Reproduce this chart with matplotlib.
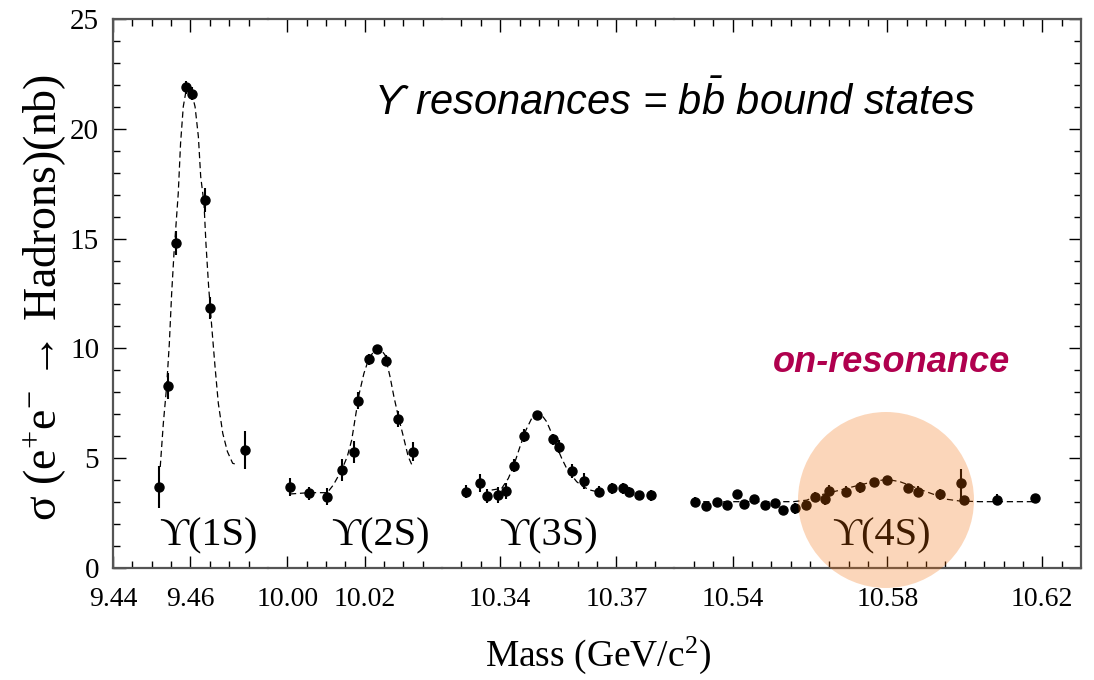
import numpy as np
import matplotlib
matplotlib.use("Agg")
import matplotlib.pyplot as plt
from matplotlib.patches import Ellipse
from matplotlib.ticker import FixedLocator, FormatStrFormatter

plt.rcParams['mathtext.fontset'] = 'custom'
plt.rcParams['mathtext.rm'] = 'Liberation Serif'
plt.rcParams['mathtext.it'] = 'Liberation Serif:italic'
plt.rcParams['mathtext.sf'] = 'Liberation Sans:italic'

# ---- measured cross sections (mass in GeV, sigma in nb, error in nb) ----
m_1s = [9.4520, 9.4541, 9.4563, 9.4589, 9.4604, 9.4637, 9.4651, 9.4741]
s_1s = [3.70, 8.29, 14.79, 21.89, 21.60, 16.76, 11.83, 5.37]
e_1s = [0.95, 0.60, 0.55, 0.30, 0.30, 0.55, 0.50, 0.85]

m_2s = [10.0007, 10.0056, 10.01035, 10.01405, 10.01735, 10.01835, 10.0211,
        10.02325, 10.0255, 10.0285, 10.0324]
s_2s = [3.70, 3.40, 3.25, 4.46, 5.30, 7.62, 9.50, 9.96, 9.44, 6.78, 5.30]
e_2s = [0.40, 0.30, 0.40, 0.50, 0.50, 0.40, 0.25, 0.20, 0.25, 0.35, 0.45]

m_3s = [10.33115, 10.3348, 10.3365, 10.3395, 10.3414, 10.34355, 10.34615,
        10.34945, 10.3537, 10.35525, 10.35865, 10.36175, 10.3656, 10.3688,
        10.37165, 10.37335, 10.37585, 10.37885]
s_3s = [3.48, 3.86, 3.28, 3.32, 3.51, 4.66, 6.03, 6.97, 5.87, 5.52, 4.42,
        3.96, 3.48, 3.63, 3.63, 3.48, 3.32, 3.32]
e_3s = [0.30, 0.40, 0.30, 0.35, 0.35, 0.30, 0.30, 0.20, 0.25, 0.30, 0.30,
        0.35, 0.25, 0.25, 0.25, 0.20, 0.15, 0.25]

m_4s = [10.5303, 10.53315, 10.5359, 10.53865, 10.54125, 10.54295, 10.54555,
        10.5484, 10.55095, 10.5531, 10.55615, 10.559, 10.5613, 10.5639,
        10.5649, 10.5693, 10.5729, 10.5766, 10.5800, 10.5854, 10.5880,
        10.5936, 10.5990, 10.5998, 10.6084, 10.6181]
s_4s = [3.02, 2.82, 3.02, 2.87, 3.36, 2.91, 3.13, 2.87, 2.97, 2.64, 2.72,
        2.87, 3.25, 3.14, 3.52, 3.47, 3.67, 3.93, 4.01, 3.66, 3.47, 3.36,
        3.86, 3.10, 3.10, 3.17]
e_4s = [0.20, 0.15, 0.15, 0.15, 0.20, 0.15, 0.15, 0.15, 0.15, 0.15, 0.25,
        0.15, 0.20, 0.25, 0.25, 0.25, 0.25, 0.15, 0.15, 0.15, 0.25, 0.25,
        0.65, 0.20, 0.25, 0.15]

# ---- fitted line shapes ----
fm_1s = [9.4522, 9.4530, 9.45385, 9.45455, 9.45515, 9.45575, 9.45685, 9.45745,
         9.45815, 9.45905, 9.46005, 9.4612, 9.46205, 9.46265, 9.4635, 9.4640,
         9.4647, 9.4655, 9.46635, 9.4672, 9.46835, 9.46955, 9.4709, 9.47235]
fs_1s = [4.60, 6.59, 8.26, 10.23, 12.51, 14.33, 17.06, 19.34, 21.01, 21.92,
         21.84, 21.00, 19.64, 17.82, 16.61, 14.79, 12.81, 10.99, 9.17, 7.50,
         6.13, 5.30, 4.77, 4.69]

fm_2s = [10.0007, 10.0056, 10.01035, 10.0119, 10.01405, 10.0155, 10.01665,
         10.01775, 10.0186, 10.0198, 10.0211, 10.02265, 10.02395, 10.02525,
         10.02655, 10.02755, 10.0287, 10.0300, 10.03125, 10.0324]
fs_2s = [3.37, 3.43, 3.43, 3.78, 4.46, 5.07, 5.83, 7.04, 7.95, 8.86, 9.55,
         9.93, 10.00, 9.70, 8.71, 7.80, 6.89, 5.98, 5.07, 4.61]

fm_3s = [10.3378, 10.3404, 10.3421, 10.34355, 10.3451, 10.34665, 10.34815,
         10.34945, 10.3507, 10.3520, 10.3533, 10.3546, 10.3559, 10.35715,
         10.35845, 10.35975, 10.36145, 10.3632, 10.3649]
fs_3s = [3.55, 3.63, 4.08, 4.69, 5.52, 6.28, 6.82, 7.00, 6.97, 6.66, 6.13,
         5.52, 4.99, 4.54, 4.23, 3.93, 3.70, 3.55, 3.48]

fm_4s = [10.52985, 10.5557, 10.55915, 10.5626, 10.56605, 10.5695, 10.5729,
         10.57635, 10.5798, 10.58325, 10.5867, 10.5901, 10.5936, 10.5953,
         10.59875, 10.6039, 10.6125, 10.6177]
fs_4s = [3.02, 3.02, 3.09, 3.32, 3.47, 3.63, 3.78, 3.93, 4.04, 3.93, 3.70,
         3.47, 3.25, 3.13, 3.05, 3.02, 3.02, 3.02]

# ---- axis segments ----
seg_ranges = [(9.44, 9.48), (9.995, 10.04), (10.325, 10.385), (10.525, 10.63)]
seg_major = [[9.44, 9.46], [10.00, 10.02], [10.34, 10.37], [10.54, 10.58, 10.62]]
seg_labels = ["\u03d2(1S)", "\u03d2(2S)", "\u03d2(3S)", "\u03d2(4S)"]
label_pos = [9.4645, 10.0240, 10.3525, 10.5785]
y_ticks = [0, 5, 10, 15, 20, 25]

datasets = [(m_1s, s_1s, e_1s, fm_1s, fs_1s),
            (m_2s, s_2s, e_2s, fm_2s, fs_2s),
            (m_3s, s_3s, e_3s, fm_3s, fs_3s),
            (m_4s, s_4s, e_4s, fm_4s, fs_4s)]

W, H = 1094, 680
fig = plt.figure(figsize=(W / 100, H / 100), dpi=100)

L_px, R_px, T_px, B_px = 113, 1081, 19, 568
step = 0.005
widths = [(hi - lo) / step for lo, hi in seg_ranges]
px_per_step = (R_px - L_px) / sum(widths)

serif = ['Liberation Serif', 'DejaVu Serif']
spine_col = '#555555'

axes = []
x0 = L_px
for i, (lo, hi) in enumerate(seg_ranges):
    w = widths[i] * px_per_step
    ax = fig.add_axes([x0 / W, 1 - B_px / H, w / W, (B_px - T_px) / H])
    x0 += w
    axes.append(ax)
    ax.set_xlim(lo, hi)
    ax.set_ylim(0, 25)
    ax.patch.set_alpha(0)
    for side in ['top', 'bottom', 'left', 'right']:
        ax.spines[side].set_color(spine_col)
        ax.spines[side].set_linewidth(1.6)
    if i > 0:
        ax.spines['left'].set_visible(False)
    if i < len(seg_ranges) - 1:
        ax.spines['right'].set_visible(False)

    first = lo if i == 0 else lo + step
    minors = np.arange(first, hi - step / 2, step)
    ax.xaxis.set_major_locator(FixedLocator(seg_major[i]))
    ax.xaxis.set_minor_locator(FixedLocator(minors))
    ax.xaxis.set_major_formatter(FormatStrFormatter('%.2f'))
    ax.tick_params(axis='x', which='both', direction='in', top=True,
                   bottom=True, color='black', width=1.0)
    ax.tick_params(axis='x', which='major', length=9, pad=14,
                   labelsize=20)
    ax.tick_params(axis='x', which='minor', length=5)
    for lab in ax.get_xticklabels():
        lab.set_family(serif)

    ax.yaxis.set_major_locator(FixedLocator(y_ticks))
    ax.yaxis.set_minor_locator(FixedLocator(np.arange(0, 26, 1)))
    ax.tick_params(axis='y', which='both', direction='in', color='black',
                   width=1.0, left=(i == 0), right=(i == len(seg_ranges) - 1),
                   labelleft=(i == 0), labelright=False)
    ax.tick_params(axis='y', which='major', length=9, pad=10, labelsize=21)
    ax.tick_params(axis='y', which='minor', length=5)
    for lab in ax.get_yticklabels():
        lab.set_family(serif)

    m, s, e, fm, fs = datasets[i]
    ax.plot(fm, fs, color='black', lw=0.9, ls=(0, (5, 3)), zorder=2)
    ax.errorbar(m, s, yerr=e, fmt='o', color='black', ms=6.5, elinewidth=1.5,
                capsize=0, zorder=3)
    ax.text(label_pos[i], 1.45, seg_labels[i], ha='center', va='center',
            fontsize=29, family=serif, color='black')

# axis titles
fig.text(598 / W, 1 - 655 / H, r"Mass (GeV/c$^{2}$)", ha='center',
         va='center', fontsize=27, family=serif)
fig.text(45 / W, 1 - 297 / H, r"σ (e$^{+}$e$^{-}$ → Hadrons)(nb)",
         ha='center', va='center', rotation=90, fontsize=33, family=serif)

# annotations
fig.text(374 / W, 1 - 115 / H,
         "\u03d2 resonances = " + r"$\mathsf{b\bar{b}}$" + " bound states",
         ha='left', va='baseline', fontsize=30, style='italic',
         family=['Liberation Sans', 'DejaVu Sans'])
fig.text(892 / W, 1 - 362 / H, "on-resonance", ha='center', va='center',
         fontsize=26, style='italic', weight='bold', color='#B0004E',
         family=['Liberation Sans', 'DejaVu Sans'])

# highlight of the 4S region
circ = Ellipse((886 / W, 1 - 500 / H), 176 / W, 176 / H,
               transform=fig.transFigure, facecolor='#F26A00', alpha=0.27,
               edgecolor='none', zorder=5)
fig.add_artist(circ)

fig.savefig("out.png", dpi=100)
